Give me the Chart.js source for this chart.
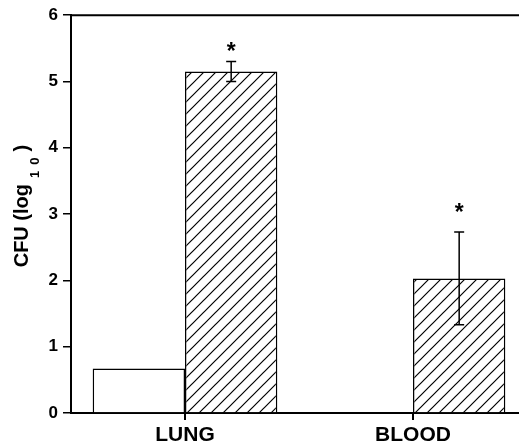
<!DOCTYPE html>
<html>
<head>
<meta charset="utf-8">
<script src="https://cdn.jsdelivr.net/npm/chart.js@4.4.0/dist/chart.umd.min.js"></script>
<style>
  html, body { margin: 0; padding: 0; overflow: hidden; background: #fff; }
  #wrap { width: 540px; height: 445px; }
</style>
</head>
<body>
<div id="wrap"><canvas id="cfuChart"></canvas></div>
<script>
// values (log10 CFU)
const categories = ["LUNG", "BLOOD"];
const controlValues = [0.67, 0];
const treatedValues = [5.15, 2.03];
const treatedErrors = [0.15, 0.7];
const starValues = [5.53, 3.1];
const yTicks = [0, 1, 2, 3, 4, 5, 6];

const FONT = "'Liberation Sans', Arial, Helvetica, sans-serif";
const canvas = document.getElementById("cfuChart");

// diagonal hatch fill for the second series
function hatch() {
  const n = 12;
  const c = document.createElement("canvas");
  c.width = n;
  c.height = n;
  const g = c.getContext("2d");
  g.fillStyle = "#fff";
  g.fillRect(0, 0, n, n);
  g.strokeStyle = "#000";
  g.lineWidth = 1.2;
  g.beginPath();
  g.moveTo(0, n); g.lineTo(n, 0);
  g.moveTo(-n / 2, n / 2); g.lineTo(n / 2, -n / 2);
  g.moveTo(n / 2, n * 1.5); g.lineTo(n * 1.5, n / 2);
  g.stroke();
  return canvas.getContext("2d").createPattern(c, "repeat");
}

// top line of the frame
const frame = {
  id: "frame",
  afterDraw(chart) {
    const { left, right, top, bottom } = chart.chartArea;
    const g = chart.ctx;
    g.save();
    g.strokeStyle = "#000";
    g.lineWidth = 2;
    g.beginPath();
    g.moveTo(left - 1, top);
    g.lineTo(right, top);
    g.lineTo(right, bottom);
    g.stroke();
    g.restore();
  }
};

// y title with a real subscript: CFU (log10)
const yTitle = {
  id: "yTitle",
  afterDraw(chart) {
    const g = chart.ctx;
    const { top, bottom } = chart.chartArea;
    const main = "bold 20px " + FONT;
    const sub = "bold 13px " + FONT;
    const spacing = 6;
    g.save();
    g.fillStyle = "#000";
    g.textBaseline = "alphabetic";
    g.textAlign = "left";
    g.font = main;
    const w1 = g.measureText("CFU (log").width;
    const w3 = g.measureText(")").width;
    g.font = sub;
    g.letterSpacing = spacing + "px";
    const w2 = g.measureText("10").width - spacing;
    const gap = 6;
    const total = w1 + gap + w2 + gap + w3;
    const cy = (top + bottom) / 2 - 8;
    g.translate(28, cy);
    g.rotate(-Math.PI / 2);
    let x = -total / 2;
    g.font = main;
    g.letterSpacing = "0px";
    g.fillText("CFU (log", x, 0);
    x += w1 + gap;
    g.font = sub;
    g.letterSpacing = spacing + "px";
    g.fillText("10", x, 11);
    x += w2 + gap;
    g.font = main;
    g.letterSpacing = "0px";
    g.fillText(")", x, 0);
    g.restore();
  }
};

// error bars and asterisks on the hatched bars
const errorBars = {
  id: "errorBars",
  afterDatasetsDraw(chart) {
    const g = chart.ctx;
    const y = chart.scales.y;
    const meta = chart.getDatasetMeta(1);
    g.save();
    g.strokeStyle = "#000";
    g.fillStyle = "#000";
    g.lineWidth = 1.5;
    g.font = "bold 23px " + FONT;
    g.textAlign = "center";
    g.textBaseline = "alphabetic";
    meta.data.forEach((bar, i) => {
      const v = treatedValues[i], e = treatedErrors[i];
      const top = y.getPixelForValue(v + e);
      const bot = y.getPixelForValue(v - e);
      g.beginPath();
      g.moveTo(bar.x, top); g.lineTo(bar.x, bot);
      g.moveTo(bar.x - 5, top); g.lineTo(bar.x + 5, top);
      g.moveTo(bar.x - 5, bot); g.lineTo(bar.x + 5, bot);
      g.stroke();
      g.fillText("*", bar.x, y.getPixelForValue(starValues[i]) + 13);
    });
    g.restore();
  }
};

new Chart(canvas, {
  type: "bar",
  data: {
    labels: categories,
    datasets: [
      {
        label: "Control",
        data: controlValues,
        backgroundColor: "#fff",
        borderColor: "#000",
        borderWidth: 1.5,
        categoryPercentage: 0.81,
        barPercentage: 1,
      },
      {
        label: "Treated",
        data: treatedValues,
        backgroundColor: hatch(),
        borderColor: "#000",
        borderWidth: 1.5,
        categoryPercentage: 0.81,
        barPercentage: 1,
      },
    ],
  },
  options: {
    responsive: true,
    maintainAspectRatio: false,
    animation: false,
    devicePixelRatio: 1,
    layout: { padding: { top: 14, right: 13, left: 0, bottom: 0 } },
    plugins: { legend: { display: false }, tooltip: { enabled: false } },
    scales: {
      x: {
        grid: { offset: false, drawOnChartArea: false, tickLength: 7, color: "#000", lineWidth: 2 },
        border: { color: "#000", width: 2 },
        ticks: { color: "#000", padding: 3, font: { family: FONT, size: 21, weight: "bold" } },
        afterFit: (s) => { s.height = 32; },
      },
      y: {
        min: 0,
        max: 6,
        afterBuildTicks: (s) => { s.ticks = yTicks.map((v) => ({ value: v })); },
        grid: { drawOnChartArea: false, tickLength: 8, color: "#000", lineWidth: 1.5 },
        border: { color: "#000", width: 2 },
        ticks: { color: "#000", padding: 5, font: { family: FONT, size: 17, weight: "bold" } },
        afterFit: (s) => { s.width = 71; },
      },
    },
  },
  plugins: [frame, yTitle, errorBars],
});
</script>
</body>
</html>
